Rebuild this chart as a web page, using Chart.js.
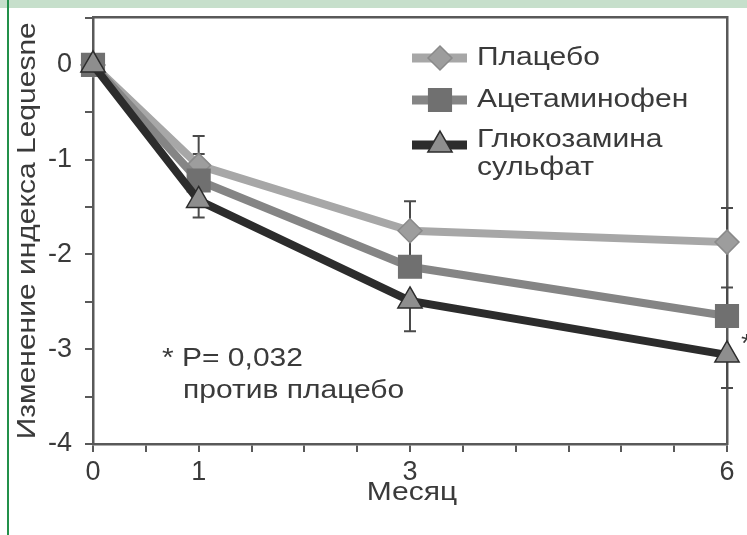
<!DOCTYPE html>
<html lang="ru">
<head>
<meta charset="utf-8">
<title>Изменение индекса Lequesne</title>
<script src="https://cdn.jsdelivr.net/npm/chart.js@4/dist/chart.umd.min.js"></script>
<style>
    html, body { margin: 0; padding: 0; background: #ffffff; }
    #wrap { position: relative; width: 747px; height: 535px; overflow: hidden; }
    #band { position: absolute; left: 0; top: 0; width: 747px; height: 8px; background: #c6dfcb; }
    #edge { position: absolute; left: 7px; top: 0; width: 2px; height: 535px; background: #23904a; }
    #chart { position: absolute; left: 0; top: 0; }
</style>
</head>
<body>
<div id="wrap">
    <div id="band"></div>
    <div id="edge"></div>
    <canvas id="chart" width="747" height="535"></canvas>
</div>
<script>
// Data
const months = [0, 1, 3, 6];
const placebo = [0, -1.06, -1.75, -1.87];
const acetaminophen = [0, -1.22, -2.13, -2.65];
const glucosamine = [0, -1.43, -2.49, -3.06];

// error bars (one-sided, as drawn in the figure)
const placeboErrUp = [0, 0.31, 0.31, 0.36];
const acetaminophenErrUp = [0, 0.28, 0.32, 0.30];
const glucosamineErrDown = [0, 0.18, 0.32, 0.35];

const xTickLabels = [0, 1, 3, 6];
const yTickLabels = [0, -1, -2, -3, -4];
const seriesNames = [['Плацебо'], ['Ацетаминофен'], ['Глюкозамина', 'сульфат']];
const xTitle = 'Месяц';
const yTitle = 'Изменение индекса Lequesne';
const noteLines = ['* P= 0,032', 'против плацебо'];

document.addEventListener('DOMContentLoaded', function() {
    const FONT = "'Liberation Sans', Arial, sans-serif";
    const textColor = '#3a3a3a';
    const axisColor = '#595959';
    const WIDE = 1.2; // the print face is wider than Arial

    const colors = {
        placeboLine: '#a7a7a7',
        placeboFill: '#9d9d9d',
        placeboEdge: '#8a8a8a',
        acetLine: '#858585',
        acetFill: '#707070',
        glucLine: '#2c2c2c',
        glucFill: '#8e8e8e'
    };

    function points(ys) {
        return months.map(function(m, i) { return { x: m, y: ys[i] }; });
    }

    const series = [
        {
            label: seriesNames[0], data: points(placebo), style: 'rectRot', radius: 12,
            line: colors.placeboLine, fill: colors.placeboFill, edge: colors.placeboEdge,
            errUp: placeboErrUp, errDown: null, order: 2
        },
        {
            label: seriesNames[1], data: points(acetaminophen), style: 'rect', radius: 16,
            line: colors.acetLine, fill: colors.acetFill, edge: colors.acetFill,
            errUp: acetaminophenErrUp, errDown: null, order: 1
        },
        {
            label: seriesNames[2], data: points(glucosamine), style: 'triangle', radius: 14,
            line: colors.glucLine, fill: colors.glucFill, edge: colors.glucLine,
            errUp: null, errDown: glucosamineErrDown, order: 0
        }
    ];

    // Error bars, drawn under the lines and markers
    const errorBars = {
        id: 'errorBars',
        beforeDatasetsDraw: function(chart) {
            const ctx = chart.ctx;
            const xs = chart.scales.x;
            const ys = chart.scales.y;
            ctx.save();
            ctx.strokeStyle = '#4a4a4a';
            ctx.lineWidth = 2;
            series.forEach(function(s) {
                s.data.forEach(function(p, i) {
                    const x = xs.getPixelForValue(p.x);
                    const ends = [];
                    if (s.errUp && s.errUp[i]) ends.push(p.y + s.errUp[i]);
                    if (s.errDown && s.errDown[i]) ends.push(p.y - s.errDown[i]);
                    ends.forEach(function(v) {
                        const y0 = ys.getPixelForValue(p.y);
                        const y1 = ys.getPixelForValue(v);
                        ctx.beginPath();
                        ctx.moveTo(x, y0);
                        ctx.lineTo(x, y1);
                        ctx.moveTo(x - 6, y1);
                        ctx.lineTo(x + 6, y1);
                        ctx.stroke();
                    });
                });
            });
            ctx.restore();
        }
    };

    function wideText(ctx, text, x, y, angle) {
        ctx.save();
        ctx.translate(x, y);
        if (angle) ctx.rotate(angle);
        ctx.scale(WIDE, 1);
        ctx.fillText(text, 0, 0);
        ctx.restore();
    }

    // Axis titles, legend and the p-value note
    const notes = {
        id: 'notes',
        afterDraw: function(chart) {
            const ctx = chart.ctx;
            const area = chart.chartArea;
            ctx.save();
            ctx.font = '25px ' + FONT;
            ctx.fillStyle = textColor;

            // axis titles
            ctx.textAlign = 'center';
            ctx.textBaseline = 'middle';
            wideText(ctx, xTitle, (area.left + area.right) / 2 + 2, 493, 0);
            wideText(ctx, yTitle, 28, (area.top + area.bottom) / 2, -Math.PI / 2);

            // legend
            const rows = [58, 100, 145];
            series.forEach(function(s, i) {
                const y = rows[i];
                ctx.strokeStyle = s.line;
                ctx.lineWidth = 9;
                ctx.beginPath();
                ctx.moveTo(412, y);
                ctx.lineTo(467, y);
                ctx.stroke();
                ctx.fillStyle = s.fill;
                ctx.strokeStyle = s.edge;
                ctx.lineWidth = 1.5;
                Chart.helpers.drawPoint(ctx, { pointStyle: s.style, radius: s.radius, borderWidth: 1.5, rotation: 0 }, 440, y);
                ctx.fillStyle = textColor;
                ctx.textAlign = 'left';
                ctx.textBaseline = 'middle';
                s.label.forEach(function(t, k) {
                    wideText(ctx, t, 477, (i === 2 ? 140 : y) + k * 28, 0);
                });
            });

            // note
            ctx.textAlign = 'left';
            ctx.textBaseline = 'alphabetic';
            wideText(ctx, noteLines[0], 162, 366, 0);
            wideText(ctx, noteLines[1], 183, 398, 0);
            wideText(ctx, '*', 741, 352, 0);
            ctx.restore();
        }
    };

    new Chart(document.getElementById('chart'), {
        type: 'line',
        data: {
            datasets: series.map(function(s) {
                return {
                    label: s.label.join(' '),
                    data: s.data,
                    borderColor: s.line,
                    borderWidth: 8,
                    pointStyle: s.style,
                    pointRadius: s.radius,
                    pointHoverRadius: s.radius,
                    pointBackgroundColor: s.fill,
                    pointBorderColor: s.edge,
                    pointBorderWidth: 1.5,
                    tension: 0,
                    fill: false,
                    clip: false,
                    order: s.order
                };
            })
        },
        options: {
            responsive: false,
            devicePixelRatio: 1,
            animation: false,
            layout: { padding: 0 },
            plugins: {
                legend: { display: false },
                tooltip: { enabled: false }
            },
            scales: {
                x: {
                    type: 'linear',
                    position: 'bottom',
                    min: 0,
                    max: 6,
                    afterFit: function(s) {
                        s.height = 91;
                        s.paddingLeft = 0;
                        s.paddingRight = 0;
                    },
                    ticks: {
                        stepSize: 0.5,
                        autoSkip: false,
                        maxRotation: 0,
                        padding: 4,
                        color: textColor,
                        font: { family: FONT, size: 27 },
                        callback: function(value) {
                            return xTickLabels.includes(value) ? String(value) : '';
                        }
                    },
                    grid: {
                        drawOnChartArea: false,
                        tickLength: 8,
                        color: axisColor,
                        lineWidth: 2
                    },
                    border: { display: true, color: axisColor, width: 2.5 }
                },
                y: {
                    type: 'linear',
                    position: 'left',
                    min: -4,
                    max: 0.5,
                    afterFit: function(s) {
                        s.width = 93;
                        s.paddingTop = 0;
                        s.paddingBottom = 0;
                    },
                    ticks: {
                        stepSize: 0.5,
                        autoSkip: false,
                        padding: 13,
                        color: textColor,
                        font: { family: FONT, size: 27 },
                        callback: function(value) {
                            return yTickLabels.includes(value) ? String(value) : '';
                        }
                    },
                    grid: {
                        drawOnChartArea: false,
                        tickLength: 8,
                        color: axisColor,
                        lineWidth: 2
                    },
                    border: { display: true, color: axisColor, width: 2.5 }
                },
                x2: {
                    type: 'linear',
                    position: 'top',
                    min: 0,
                    max: 6,
                    afterFit: function(s) { s.height = 17; },
                    ticks: { display: false },
                    grid: { display: false, drawTicks: false },
                    border: { display: true, color: axisColor, width: 2.5 }
                },
                y2: {
                    type: 'linear',
                    position: 'right',
                    min: -4,
                    max: 0.5,
                    afterFit: function(s) { s.width = 20; },
                    ticks: { display: false },
                    grid: { display: false, drawTicks: false },
                    border: { display: true, color: axisColor, width: 2.5 }
                }
            }
        },
        plugins: [errorBars, notes]
    });
});
</script>
</body>
</html>
